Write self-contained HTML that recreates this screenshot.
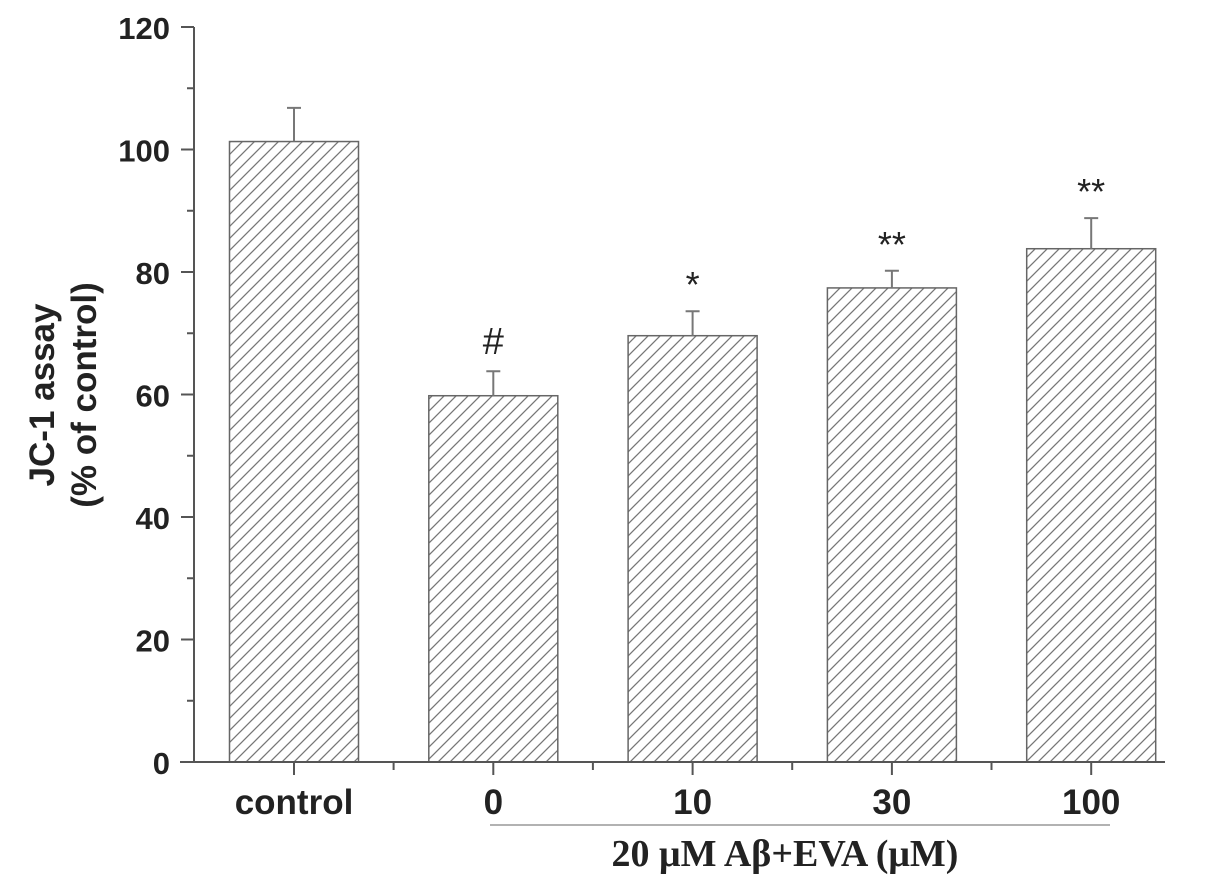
<!DOCTYPE html>
<html><head><meta charset="utf-8"><style>body{margin:0;background:#fff}svg{display:block}</style></head>
<body>
<svg id="c" width="1205" height="886" xmlns="http://www.w3.org/2000/svg">
<defs><pattern id="h" patternUnits="userSpaceOnUse" width="12" height="12"><path d="M-3,15 L15,-3 M-3,3 L3,-3 M9,15 L15,9" stroke="#777" stroke-width="1.3"/></pattern></defs>
</svg>
<script>
const categories=["control","0","10","30","100"];
const values=[101.3,59.8,69.6,77.4,83.8];
const errors=[5.5,4.0,4.0,2.8,5.0];
const marks=["","#","*","**","**"];
const yTicks=[0,20,40,60,80,100,120];
const svg=document.getElementById('c');const NS="http://www.w3.org/2000/svg";
function y(v){return 762-v*6.125;}
function x(i){return 294+i*199.3;}
function add(t,a,txt){const e=document.createElementNS(NS,t);for(const k in a)e.setAttribute(k,a[k]);if(txt!==undefined)e.textContent=txt;svg.appendChild(e);return e;}
const bw=129;
categories.forEach((c,i)=>{
 const b=add('rect',{x:x(i)-bw/2,y:y(values[i]),width:bw,height:y(0)-y(values[i]),fill:'url(#h)',stroke:'#666','stroke-width':1.5});
 
 
 const e=add('path',{d:`M${x(i)},${y(values[i])} V${y(values[i]+errors[i])} M${x(i)-7},${y(values[i]+errors[i])} H${x(i)+7}`,stroke:'#777','stroke-width':2,fill:'none'});
 
 
 if(marks[i]){const m=add('text',{x:x(i),y:y(values[i]+errors[i])-(marks[i]=='#'?17:14),'text-anchor':'middle','font-family':'Liberation Sans, sans-serif','font-size':marks[i]=='#'?38:36,fill:'#222'},marks[i]);
 
 }
 const t=add('text',{x:x(i),y:814,'text-anchor':'middle','font-family':'Liberation Sans, sans-serif','font-size':35,'font-weight':'bold',fill:'#222'},c);
 
 
 add('line',{x1:x(i),x2:x(i),y1:762,y2:775,stroke:'#555','stroke-width':2});
 if(i<categories.length-1)add('line',{x1:x(i)+99.6,x2:x(i)+99.6,y1:762,y2:770,stroke:'#555','stroke-width':2});
});
yTicks.forEach(v=>{
 add('line',{x1:181,x2:194,y1:y(v),y2:y(v),stroke:'#555','stroke-width':2});
 if(v<120)add('line',{x1:187,x2:194,y1:y(v+10),y2:y(v+10),stroke:'#555','stroke-width':2});
 const t=add('text',{x:170,y:y(v)+12,'text-anchor':'end','font-family':'Liberation Sans, sans-serif','font-size':31,'font-weight':'bold',fill:'#222'},v);
 
 
});
const ax=add('path',{d:`M194,${y(120)} V762 M180,762 H1165`,stroke:'#555','stroke-width':2,fill:'none'});


const ul=add('line',{x1:490,x2:1110,y1:825,y2:825,stroke:'#999','stroke-width':1.5});


const gl=add('text',{x:785,y:866,'text-anchor':'middle','font-family':'Liberation Serif, serif','font-size':38,'font-weight':'bold',fill:'#222'},'20 μM Aβ+EVA (μM)');


const yt=add('text',{transform:'translate(54,395) rotate(-90)','text-anchor':'middle','font-family':'Liberation Sans, sans-serif','font-size':35,'font-weight':'bold',fill:'#222'});


const s1=document.createElementNS(NS,'tspan');s1.setAttribute('x',0);s1.setAttribute('y',0);s1.textContent='JC-1 assay';yt.appendChild(s1);
const s2=document.createElementNS(NS,'tspan');s2.setAttribute('x',0);s2.setAttribute('y',42);s2.textContent='(% of control)';yt.appendChild(s2);
</script>
</body></html>
